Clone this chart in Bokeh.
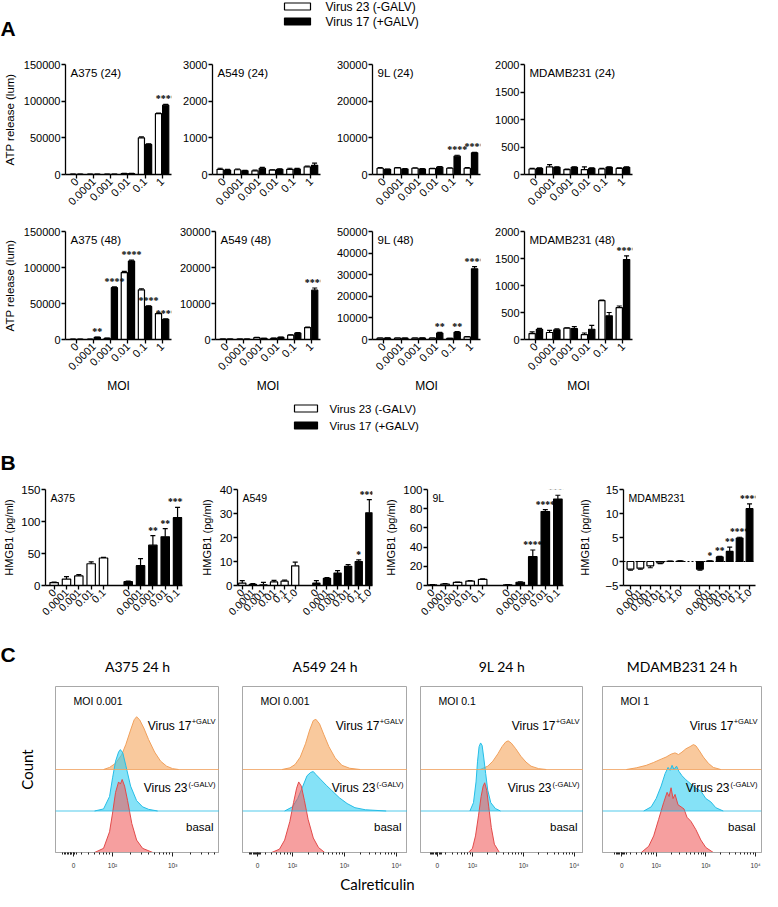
import math
import numpy as np
from bokeh.plotting import figure
from bokeh.layouts import column, row
from bokeh.models import (Range1d, FixedTicker, Label, LabelSet, Whisker, TeeHead, ColumnDataSource,
                          Span, BasicTickFormatter, CustomJSTickFormatter)
from bokeh.embed import file_html
from bokeh.resources import INLINE
from bokeh.core.properties import value

# ======================= DATA =======================
legend_labels = ["Virus 23 (-GALV)", "Virus 17 (+GALV)"]

# ---- Panel A : ATP release (lum) ----
moi_a = ["0", "0.0001", "0.001", "0.01", "0.1", "1"]

a375_24_v23 = [300, 300, 300, 1200, 50000, 83000]
a375_24_e23 = [100, 100, 100, 300, 1200, 800]
a375_24_v17 = [300, 300, 300, 1200, 41000, 94500]
a375_24_e17 = [100, 100, 100, 300, 800, 1000]
a375_24_stars = ["", "", "", "", "", "****"]

a549_24_v23 = [140, 130, 100, 120, 140, 210]
a549_24_e23 = [30, 20, 20, 10, 30, 20]
a549_24_v17 = [120, 100, 170, 140, 150, 250]
a549_24_e17 = [20, 15, 25, 15, 15, 60]
a549_24_stars = ["", "", "", "", "", ""]

l9_24_v23 = [1700, 1800, 1700, 1600, 1700, 1700]
l9_24_e23 = [150, 100, 100, 100, 100, 200]
l9_24_v17 = [1400, 1500, 1500, 2000, 5000, 5900]
l9_24_e17 = [100, 100, 100, 150, 250, 150]
l9_24_stars = ["", "", "", "", "****", "****"]

mda_24_v23 = [100, 140, 90, 90, 100, 110]
mda_24_e23 = [10, 40, 10, 50, 10, 10]
mda_24_v17 = [110, 130, 130, 110, 130, 130]
mda_24_e17 = [10, 10, 10, 10, 10, 10]
mda_24_stars = ["", "", "", "", "", ""]

a375_48_v23 = [300, 300, 1500, 93000, 69000, 36000]
a375_48_e23 = [100, 100, 300, 1500, 1500, 800]
a375_48_v17 = [300, 3000, 72000, 109000, 46000, 28000]
a375_48_e17 = [100, 500, 1000, 1200, 800, 600]
a375_48_stars = ["", "**", "****", "****", "****", "****"]

a549_48_v23 = [100, 100, 500, 300, 1200, 3300]
a549_48_e23 = [20, 20, 100, 60, 100, 150]
a549_48_v17 = [100, 100, 300, 600, 1800, 13700]
a549_48_e17 = [20, 20, 50, 100, 150, 600]
a549_48_stars = ["", "", "", "", "", "****"]

l9_48_v23 = [600, 600, 600, 600, 500, 1200]
l9_48_e23 = [50, 50, 50, 50, 50, 100]
l9_48_v17 = [700, 600, 700, 3000, 3300, 32700]
l9_48_e17 = [50, 50, 50, 300, 300, 1000]
l9_48_stars = ["", "", "", "**", "**", "****"]

mda_48_v23 = [110, 130, 210, 90, 720, 590]
mda_48_e23 = [30, 40, 5, 30, 10, 30]
mda_48_v17 = [190, 180, 200, 190, 440, 1480]
mda_48_e17 = [15, 15, 40, 70, 60, 70]
mda_48_stars = ["", "", "", "", "", "****"]

a_titles_24 = ["A375 (24)", "A549 (24)", "9L (24)", "MDAMB231 (24)"]
a_titles_48 = ["A375 (48)", "A549 (48)", "9L (48)", "MDAMB231 (48)"]
a_ymax_24 = [150000, 3000, 30000, 2000]
a_ymax_48 = [150000, 30000, 50000, 2000]
a_yticks_24 = [[0, 50000, 100000, 150000], [0, 1000, 2000, 3000],
               [0, 10000, 20000, 30000], [0, 500, 1000, 1500, 2000]]
a_yticks_48 = [[0, 50000, 100000, 150000], [0, 10000, 20000, 30000],
               [0, 10000, 20000, 30000, 40000, 50000], [0, 500, 1000, 1500, 2000]]

# ---- Panel B : HMGB1 (pg/ml) ----
moi_b5 = ["0", "0.0001", "0.001", "0.01", "0.1"]
moi_b6 = ["0", "0.0001", "0.001", "0.01", "0.1", "1.0"]

b_a375_v23 = [4.5, 10, 15, 34, 43]
b_a375_e23 = [1, 4, 2, 3, 1]
b_a375_v17 = [6, 31, 63, 76, 106]
b_a375_e17 = [1, 11, 15, 13, 16]
b_a375_stars = ["", "", "**", "**", "****"]

b_a549_v23 = [1.0, 0.5, 0.3, 1.5, 1.8, 8.2]
b_a549_e23 = [1.0, 0.3, 1.0, 0.6, 0.4, 1.5]
b_a549_v17 = [1.0, 3.0, 5.2, 8.0, 10.0, 30.3]
b_a549_e17 = [1.0, 0.3, 1.0, 0.7, 0.7, 5.5]
b_a549_stars = ["", "", "", "", "*", "****"]

b_9l_v23 = [0.6, 1.5, 3.2, 4.6, 6.3]
b_9l_e23 = [0.3, 0.5, 0.4, 0.5, 0.5]
b_9l_v17 = [0.6, 3.4, 30, 77, 90]
b_9l_e17 = [0.3, 0.5, 7, 2, 4]
b_9l_stars = ["", "", "****", "****", "****"]

b_mda_v23 = [-1.6, -1.4, -0.9, -0.3, 0.05, 0.1]
b_mda_e23 = [0.2, 0.2, 0.4, 0.15, 0.05, 0.05]
b_mda_v17 = [-1.6, 0.1, 0.95, 2.1, 4.9, 11.0]
b_mda_e17 = [0.2, 0.05, 0.1, 0.9, 0.15, 1.0]
b_mda_stars = ["", "*", "**", "**", "****", "****"]

b_titles = ["A375", "A549", "9L", "MDAMB231"]
b_ylim = [(0, 150), (0, 40), (0, 100), (-5, 15)]
b_yticks = [[0, 50, 100, 150], [0, 10, 20, 30, 40], [0, 20, 40, 60, 80, 100], [-5, 0, 5, 10, 15]]
b_xlim = [(-0.7, 10.4), (-0.45, 12.3), (-0.4, 10.45), (-0.7, 12.6)]

# ---- Panel C : calreticulin flow histograms (x = log10 intensity, h = height) ----
c_titles = ["A375 24 h", "A549 24 h", "9L 24 h", "MDAMB231 24 h"]
c_moi = ["MOI 0.001", "MOI 0.001", "MOI 0.1", "MOI 1"]
c_xlim = [(1.05, 3.78), (1.04, 4.21), (0.98, 4.18), (0.92, 4.12)]
c_zero = [1.35, 1.33, 1.31, 1.31]
c_tick_labels = ["0", "10\u00b2", "10\u00b3", "10\u2074"]

a375_v17_x = [1.85, 1.95, 2.05, 2.15, 2.22, 2.3, 2.36, 2.4, 2.45, 2.52, 2.6, 2.7, 2.8, 2.9, 3.0, 3.1]
a375_v17_h = [0, 0.05, 0.15, 0.35, 0.6, 0.95, 1.2, 1.27, 1.2, 1.0, 0.72, 0.42, 0.2, 0.08, 0.02, 0]
a375_v23_x = [1.7, 1.85, 1.95, 2.0, 2.05, 2.1, 2.13, 2.17, 2.22, 2.3, 2.4, 2.5, 2.6, 2.75]
a375_v23_h = [0, 0.05, 0.35, 0.8, 1.2, 1.42, 1.48, 1.4, 1.1, 0.6, 0.25, 0.1, 0.04, 0]
a375_bas_x = [1.7, 1.85, 1.95, 2.0, 2.05, 2.1, 2.13, 2.16, 2.2, 2.25, 2.32, 2.4, 2.5, 2.67]
a375_bas_h = [0, 0.1, 0.5, 0.95, 1.45, 1.7, 1.65, 1.76, 1.6, 1.25, 0.7, 0.3, 0.1, 0]

a549_v17_x = [1.8, 1.95, 2.05, 2.15, 2.25, 2.33, 2.4, 2.45, 2.52, 2.6, 2.7, 2.82, 2.95, 3.1, 3.3]
a549_v17_h = [0, 0.04, 0.12, 0.3, 0.62, 0.95, 1.18, 1.21, 1.1, 0.85, 0.55, 0.28, 0.1, 0.03, 0]
a549_v23_x = [1.85, 2.0, 2.1, 2.2, 2.28, 2.35, 2.4, 2.45, 2.55, 2.65, 2.75, 2.9, 3.05, 3.2, 3.4, 3.8]
a549_v23_h = [0, 0.1, 0.3, 0.6, 0.85, 0.93, 0.95, 0.88, 0.75, 0.62, 0.5, 0.32, 0.18, 0.08, 0.03, 0]
a549_bas_x = [1.6, 1.75, 1.85, 1.95, 2.02, 2.08, 2.12, 2.17, 2.23, 2.3, 2.4, 2.5, 2.62]
a549_bas_h = [0, 0.08, 0.3, 0.75, 1.2, 1.55, 1.7, 1.6, 1.25, 0.8, 0.35, 0.12, 0]

l9_v17_x = [2.15, 2.3, 2.4, 2.5, 2.58, 2.65, 2.7, 2.76, 2.85, 2.95, 3.05, 3.15, 3.3, 3.45]
l9_v17_h = [0, 0.08, 0.2, 0.38, 0.55, 0.66, 0.69, 0.64, 0.5, 0.32, 0.18, 0.08, 0.02, 0]
l9_v23_x = [1.95, 2.02, 2.07, 2.1, 2.13, 2.16, 2.19, 2.22, 2.26, 2.3, 2.36, 2.45, 2.55]
l9_v23_h = [0, 0.2, 0.7, 1.2, 1.55, 1.64, 1.58, 1.3, 0.9, 0.5, 0.2, 0.06, 0]
l9_bas_x = [1.92, 2.0, 2.06, 2.12, 2.17, 2.21, 2.24, 2.28, 2.32, 2.37, 2.43, 2.53]
l9_bas_h = [0, 0.1, 0.4, 0.9, 1.35, 1.6, 1.68, 1.5, 1.1, 0.6, 0.2, 0]

mda_v17_x = [1.4, 1.6, 1.8, 1.95, 2.1, 2.2, 2.3, 2.38, 2.45, 2.52, 2.6, 2.68, 2.75, 2.8, 2.87,
             2.95, 3.05, 3.15, 3.3]
mda_v17_h = [0, 0.04, 0.1, 0.17, 0.25, 0.3, 0.37, 0.4, 0.36, 0.42, 0.5, 0.55, 0.6, 0.57, 0.45,
             0.3, 0.15, 0.05, 0]
mda_v23_x = [1.75, 1.9, 2.0, 2.1, 2.18, 2.24, 2.28, 2.32, 2.36, 2.41, 2.46, 2.52, 2.6, 2.7, 2.8,
             2.9, 3.0, 3.1, 3.2, 3.35]
mda_v23_h = [0, 0.1, 0.3, 0.6, 0.9, 1.05, 0.98, 1.1, 1.0, 1.08, 0.95, 0.85, 0.75, 0.65, 0.55,
             0.48, 0.3, 0.22, 0.08, 0]
mda_bas_x = [1.7, 1.85, 1.95, 2.05, 2.15, 2.22, 2.26, 2.3, 2.34, 2.38, 2.44, 2.5, 2.56, 2.62,
             2.7, 2.8, 2.9, 3.0, 3.15]
mda_bas_h = [0, 0.15, 0.4, 0.8, 1.2, 1.45, 1.35, 1.56, 1.3, 1.4, 1.15, 1.1, 1.05, 0.85, 0.75,
             0.55, 0.3, 0.12, 0]

# ======================= STYLE / LAYOUT =======================
FONT = "Liberation Sans"
GEO = "Lato"
TOTAL_W = 762

A_W = [176, 156, 156, 274]
A_BL = [64, 36, 40, 36]
A_BR = [5, 12, 8, 130]
R1_H, R1_BT, R1_BB = 168, 12, 46
R2_H, R2_BT, R2_BB = 175, 11, 56

B_W = [197, 185, 194, 186]
B_BL = [41, 35, 40, 43]
B_BR = [15, 10, 13, 7]
B_H = 157
B_BT = [14, 14, 14, 10]
B_BB = [46, 46, 46, 47]

C_W = [219, 188, 176, 179]
C_BL = [55, 23, 13, 19]
C_BR = [0, 0, 0, 1]
C_H, C_BT, C_BB = 194, 6, 22

FILLS = ["#F5A256", "#2CCDF2", "#F05A5A"]
LINES = ["#F0A05C", "#25BDE6", "#E24A4A"]


def blank(w, h):
    p = figure(width=w, height=h, x_range=Range1d(0, w), y_range=Range1d(h, 0),
               toolbar_location=None, output_backend="svg",
               min_border=0, min_border_left=0, min_border_right=0,
               min_border_top=0, min_border_bottom=0,
               x_axis_location=None, y_axis_location=None, outline_line_color=None)
    p.grid.visible = False
    return p


def txt(p, x, y, s, size, font=FONT, align="left", bold=False, baseline="middle", **kw):
    p.add_layout(Label(x=x, y=y, text=s, text_font=font, text_font_size=size,
                       text_align=align, text_baseline=baseline, text_color="black",
                       text_font_style="bold" if bold else "normal", **kw))


def axis_style(ax, size="11.5px"):
    ax.axis_line_width = 1.3
    ax.axis_line_color = "black"
    ax.major_tick_line_width = 1.3
    ax.major_tick_line_color = "black"
    ax.major_tick_out = 4
    ax.major_tick_in = 0
    ax.minor_tick_line_color = None
    ax.major_label_text_font = FONT
    ax.major_label_text_font_size = size
    ax.major_label_text_color = "black"
    ax.major_label_standoff = 1
    ax.axis_label_text_font = FONT
    ax.axis_label_text_font_style = "normal"
    ax.axis_label_text_color = "black"


def add_err(p, xs, vals, errs):
    pos = [(x, v, v + e) for x, v, e in zip(xs, vals, errs) if v >= 0]
    neg = [(x, v - e, v) for x, v, e in zip(xs, vals, errs) if v < 0]
    if pos:
        src = ColumnDataSource(dict(base=[a[0] for a in pos], lower=[a[1] for a in pos],
                                    upper=[a[2] for a in pos]))
        p.add_layout(Whisker(source=src, base="base", lower="lower", upper="upper",
                             line_color="black", line_width=1.2,
                             upper_head=TeeHead(size=5, line_color="black", line_width=1.2),
                             lower_head=None))
    if neg:
        src = ColumnDataSource(dict(base=[a[0] for a in neg], lower=[a[1] for a in neg],
                                    upper=[a[2] for a in neg]))
        p.add_layout(Whisker(source=src, base="base", lower="lower", upper="upper",
                             line_color="black", line_width=1.2,
                             lower_head=TeeHead(size=5, line_color="black", line_width=1.2),
                             upper_head=None))


def add_stars(p, xs, vals, errs, stars, size):
    src = ColumnDataSource(dict(x=xs, y=[v + e for v, e in zip(vals, errs)], t=stars))
    p.add_layout(LabelSet(x="x", y="y", text="t", source=src, text_align="center",
                          text_baseline="bottom", y_offset=0, text_font=FONT,
                          text_font_size=size, text_font_style="bold", text_color="black"))


def a_fig(col, H, BT, BB, title, ymax, yticks, v23, e23, v17, e17, stars, xlabel):
    xr = (-0.65, 5.55)
    p = figure(width=A_W[col], height=H, x_range=Range1d(*xr), y_range=Range1d(0, ymax),
               toolbar_location=None, output_backend="svg",
               min_border_left=A_BL[col], min_border_right=A_BR[col],
               min_border_top=BT, min_border_bottom=BB, outline_line_color=None)
    p.grid.visible = False
    xi = list(range(len(moi_a)))
    x23 = [x - 0.21 for x in xi]
    x17 = [x + 0.21 for x in xi]
    add_err(p, x23, v23, e23)
    add_err(p, x17, v17, e17)
    p.vbar(x=x23, top=v23, width=0.36, fill_color="white", line_color="black", line_width=1.2)
    p.vbar(x=x17, top=v17, width=0.36, fill_color="black", line_color="black", line_width=1.2)
    add_stars(p, x17, v17, e17, stars, "10px")
    axis_style(p.xaxis[0], "11px")
    axis_style(p.yaxis[0], "11px")
    p.xaxis.ticker = FixedTicker(ticks=xi)
    p.xaxis.major_label_overrides = {i: lab for i, lab in enumerate(moi_a)}
    p.xaxis.major_label_orientation = math.pi / 4
    p.yaxis.ticker = FixedTicker(ticks=yticks)
    p.yaxis.formatter = BasicTickFormatter(use_scientific=False)
    if col == 0:
        p.yaxis.axis_label = "ATP release (lum)"
        p.yaxis.axis_label_text_font_size = "11.5px"
        p.yaxis.axis_label_standoff = 5
    if xlabel:
        p.xaxis.axis_label = xlabel
        p.xaxis.axis_label_text_font_size = "12px"
        p.xaxis.axis_label_standoff = 2
    p.add_layout(Label(x=xr[0], y=ymax, x_offset=5, y_offset=-2, text=title,
                       text_font=FONT, text_font_size="11.5px", text_baseline="top",
                       text_color="black"))
    return p


def b_fig(col, moi, title, v23, e23, v17, e17, stars):
    n = len(moi)
    ylo, yhi = b_ylim[col]
    xr = b_xlim[col]
    p = figure(width=B_W[col], height=B_H, x_range=Range1d(*xr), y_range=Range1d(ylo, yhi),
               toolbar_location=None, output_backend="svg",
               min_border_left=B_BL[col], min_border_right=B_BR[col],
               min_border_top=B_BT[col], min_border_bottom=B_BB[col], outline_line_color=None)
    p.grid.visible = False
    x23 = list(range(n))
    x17 = [n + 1 + i for i in range(n)]
    if ylo < 0:
        p.add_layout(Span(location=0, dimension="width", line_color="black",
                          line_dash="2 2", line_width=1.2))
    add_err(p, x23, v23, e23)
    add_err(p, x17, v17, e17)
    p.vbar(x=x23, top=v23, bottom=0, width=0.68, fill_color="white", line_color="black",
           line_width=1.2)
    p.vbar(x=x17, top=v17, bottom=0, width=0.68, fill_color="black", line_color="black",
           line_width=1.2)
    add_stars(p, x17, v17, e17, stars, "9.5px")
    axis_style(p.xaxis[0], "10.5px")
    axis_style(p.yaxis[0], "11.5px")
    ticks = x23 + x17
    p.xaxis.ticker = FixedTicker(ticks=ticks)
    p.xaxis.major_label_overrides = {t: lab for t, lab in zip(ticks, moi + moi)}
    p.xaxis.major_label_orientation = math.pi / 4
    p.yaxis.ticker = FixedTicker(ticks=b_yticks[col])
    p.yaxis.formatter = BasicTickFormatter(use_scientific=False)
    p.yaxis.axis_label = "HMGB1 (pg/ml)"
    p.yaxis.axis_label_text_font_size = "11px"
    p.yaxis.axis_label_standoff = [3, 4, 3, 11][col]
    p.add_layout(Label(x=xr[0], y=yhi, x_offset=5, y_offset=-2, text=title,
                       text_font=FONT, text_font_size="10.5px", text_baseline="top",
                       text_color="black"))
    return p


flow_minor = ([math.log10(k * 10 ** n) for n in (1, 2, 3) for k in range(2, 10)]
              + [1.17 + 0.025 * j for j in range(10)])


def c_fig(col, curves):
    xr = c_xlim[col]
    p = figure(width=C_W[col], height=C_H, x_range=Range1d(*xr), y_range=Range1d(0, 4),
               toolbar_location=None, output_backend="svg",
               min_border_left=C_BL[col], min_border_right=C_BR[col],
               min_border_top=C_BT, min_border_bottom=C_BB,
               outline_line_color="#a8a8a8", outline_line_width=1,
               y_axis_location="left" if col == 0 else None)
    p.grid.visible = False
    p.add_layout(Span(location=2, dimension="width", line_color=LINES[0], line_width=1,
                      line_alpha=0.8))
    p.add_layout(Span(location=1, dimension="width", line_color=LINES[1], line_width=1,
                      line_alpha=0.8))
    for (xs, hs), base, fc, lc in zip(curves, [2, 1, 0], FILLS, LINES):
        top = [base + h for h in hs]
        p.varea(x=xs, y1=[base] * len(xs), y2=top, fill_color=fc, fill_alpha=0.58)
        p.line(x=xs, y=top, line_color=lc, line_width=1)
    ax = p.xaxis[0]
    ax.axis_line_color = "#a8a8a8"
    ax.major_tick_line_color = "#222222"
    ax.major_tick_out = 4
    ax.major_tick_in = 0
    ax.minor_tick_line_color = "#222222"
    ax.minor_tick_out = 2
    ax.minor_tick_in = 0
    ax.major_label_text_font = FONT
    ax.major_label_text_font_size = "6.5px"
    ax.major_label_text_color = "#333333"
    ax.major_label_standoff = 5
    nt = 3 if xr[1] < 4 else 4
    tpos = [c_zero[col], 2, 3, 4][:nt]
    ax.ticker = FixedTicker(ticks=tpos, minor_ticks=flow_minor)
    ax.formatter = CustomJSTickFormatter(
        args=dict(pos=tpos, lab=c_tick_labels[:nt]),
        code="for (let i = 0; i < pos.length; i++) { if (Math.abs(tick - pos[i]) < 1e-6) return lab[i]; } return '';")
    if col == 0:
        ay = p.yaxis[0]
        ay.ticker = FixedTicker(ticks=[])
        ay.axis_line_color = None
        ay.major_tick_out = 0
        ay.major_tick_line_color = None
        ay.minor_tick_line_color = None
        ay.major_label_standoff = 0
        ay.axis_label = "Count"
        ay.axis_label_text_font = GEO
        ay.axis_label_text_font_size = "15px"
        ay.axis_label_text_font_style = "normal"
        ay.axis_label_text_color = "black"
        ay.axis_label_standoff = 20
    xe = xr[1]
    txt(p, xr[0], 4, c_moi[col], "10.5px", x_offset=18, y_offset=-14)
    txt(p, xe, 3.05, "Virus 17", "12px", align="right", x_offset=-28)
    txt(p, xe, 3.05, "+GALV", "7.5px", align="right", x_offset=-4, y_offset=4)
    txt(p, xe, 1.55, "Virus 23", "12px", align="right", x_offset=-32)
    txt(p, xe, 1.55, "(-GALV)", "7.5px", align="right", x_offset=-4, y_offset=4)
    txt(p, xe, 0.62, "basal", "11.5px", align="right", x_offset=-6)
    return p


# ======================= BUILD =======================
# Header A
h0 = blank(TOTAL_W, 52)
h0.rect(x=[297, 297], y=[6, 21], width=26, height=7, fill_color=["white", "black"],
        line_color="black", line_width=1.2)
txt(h0, 325, 6, legend_labels[0], "12px")
txt(h0, 325, 21, legend_labels[1], "12px")
txt(h0, 0, 28, "A", "21px", bold=True)

row1_data = [
    (a375_24_v23, a375_24_e23, a375_24_v17, a375_24_e17, a375_24_stars),
    (a549_24_v23, a549_24_e23, a549_24_v17, a549_24_e17, a549_24_stars),
    (l9_24_v23, l9_24_e23, l9_24_v17, l9_24_e17, l9_24_stars),
    (mda_24_v23, mda_24_e23, mda_24_v17, mda_24_e17, mda_24_stars),
]
row2_data = [
    (a375_48_v23, a375_48_e23, a375_48_v17, a375_48_e17, a375_48_stars),
    (a549_48_v23, a549_48_e23, a549_48_v17, a549_48_e17, a549_48_stars),
    (l9_48_v23, l9_48_e23, l9_48_v17, l9_48_e17, l9_48_stars),
    (mda_48_v23, mda_48_e23, mda_48_v17, mda_48_e17, mda_48_stars),
]
r1 = row(*[a_fig(i, R1_H, R1_BT, R1_BB, a_titles_24[i], a_ymax_24[i], a_yticks_24[i],
                 *row1_data[i], None) for i in range(4)])
r2 = row(*[a_fig(i, R2_H, R2_BT, R2_BB, a_titles_48[i], a_ymax_48[i], a_yticks_48[i],
                 *row2_data[i], "MOI") for i in range(4)])

# Header B
h3 = blank(TOTAL_W, 80)
h3.rect(x=[305.5, 305.5], y=[13, 30], width=23, height=7, fill_color=["white", "black"],
        line_color="black", line_width=1.2)
txt(h3, 329, 13, legend_labels[0], "11.5px")
txt(h3, 329, 30, legend_labels[1], "11.5px")
txt(h3, 0, 67, "B", "21px", bold=True)

b_data = [
    (moi_b5, b_a375_v23, b_a375_e23, b_a375_v17, b_a375_e17, b_a375_stars),
    (moi_b6, b_a549_v23, b_a549_e23, b_a549_v17, b_a549_e17, b_a549_stars),
    (moi_b5, b_9l_v23, b_9l_e23, b_9l_v17, b_9l_e17, b_9l_stars),
    (moi_b6, b_mda_v23, b_mda_e23, b_mda_v17, b_mda_e17, b_mda_stars),
]
r4 = row(*[b_fig(i, b_data[i][0], b_titles[i], *b_data[i][1:]) for i in range(4)])

# Header C with titles centred over the boxes
h5 = blank(TOTAL_W, 48)
txt(h5, 0, 22, "C", "21px", bold=True)
x0 = 0
for i in range(4):
    frame_w = C_W[i] - C_BL[i] - C_BR[i]
    cx = x0 + C_BL[i] + frame_w / 2
    txt(h5, cx, 34, c_titles[i], "14px", font=GEO, align="center")
    x0 += C_W[i]

c_curves = [
    [(a375_v17_x, a375_v17_h), (a375_v23_x, a375_v23_h), (a375_bas_x, a375_bas_h)],
    [(a549_v17_x, a549_v17_h), (a549_v23_x, a549_v23_h), (a549_bas_x, a549_bas_h)],
    [(l9_v17_x, l9_v17_h), (l9_v23_x, l9_v23_h), (l9_bas_x, l9_bas_h)],
    [(mda_v17_x, mda_v17_h), (mda_v23_x, mda_v23_h), (mda_bas_x, mda_bas_h)],
]
r5 = row(*[c_fig(i, c_curves[i]) for i in range(4)])

h6 = blank(TOTAL_W, 17)
txt(h6, 377, 9, "Calreticulin", "15px", font=GEO, align="center")

layout = column(h0, r1, r2, h3, r4, h5, r5, h6)
open("out.html", "w").write(file_html(layout, INLINE))
